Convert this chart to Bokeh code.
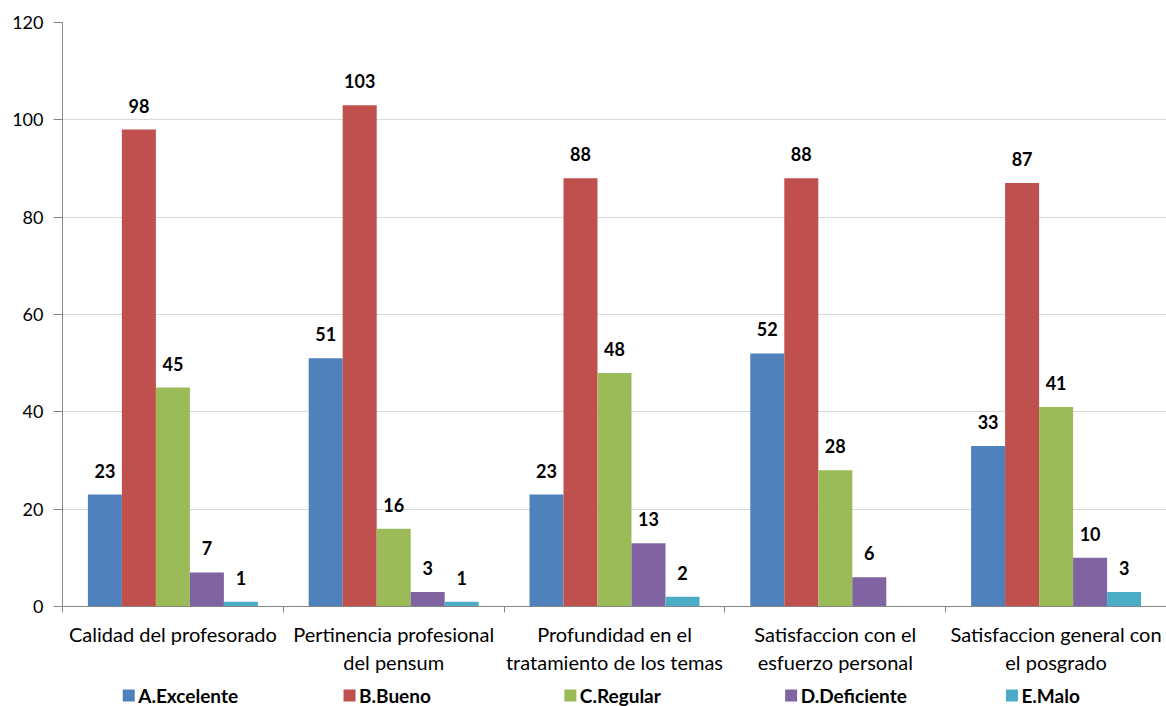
from bokeh.plotting import figure
from bokeh.layouts import column
from bokeh.models import ColumnDataSource, Range1d, FixedTicker
from bokeh.core.properties import value
from bokeh.embed import file_html
from bokeh.resources import INLINE

categories = ["Calidad del profesorado", "Pertinencia profesional\ndel pensum",
              "Profundidad en el\ntratamiento de los temas", "Satisfaccion con el\nesfuerzo personal",
              "Satisfaccion general con\nel posgrado"]
series_names = ["A.Excelente", "B.Bueno", "C.Regular", "D.Deficiente", "E.Malo"]
excelente = [23, 51, 23, 52, 33]
bueno = [98, 103, 88, 88, 87]
regular = [45, 16, 48, 28, 41]
deficiente = [7, 3, 13, 6, 10]
malo = [1, 1, 2, None, 3]
series_values = [excelente, bueno, regular, deficiente, malo]
colors = ["#4F81BD", "#C0504D", "#9BBB59", "#8064A2", "#4BACC6"]
y_ticks = [0, 20, 40, 60, 80, 100, 120]

FONT = "Lato"
n = len(categories)
bw = 0.154

p = figure(output_backend="svg", toolbar_location=None,
           frame_width=1104, frame_height=584,
           min_border_left=62, min_border_top=22, min_border_right=0, min_border_bottom=0,
           x_range=Range1d(0, n), y_range=Range1d(0, 120))
p.outline_line_color = None
p.background_fill_color = "white"

for j, (name, vals, col) in enumerate(zip(series_names, series_values, colors)):
    xs = [i + 0.5 + (j - 2) * bw for i in range(n)]
    tops = [float('nan') if v is None else v for v in vals]
    labels = ["" if v is None else str(v) for v in vals]
    src = ColumnDataSource(dict(x=xs, top=tops, label=labels, ly=[0 if v is None else v for v in vals]))
    p.vbar(x="x", top="top", width=bw, bottom=0, source=src, fill_color=col, line_color=None)
    p.text(x="x", y="ly", text="label", source=src, text_align="center", text_baseline="alphabetic",
           y_offset=-24, text_font=value(FONT), text_font_style="bold", text_font_size="18px",
           text_color="black")

# axes
p.xaxis.ticker = FixedTicker(ticks=[i + 0.5 for i in range(n)], minor_ticks=list(range(n + 1)))
p.xaxis.major_label_overrides = {i + 0.5: c for i, c in enumerate(categories)}
p.xaxis.major_tick_line_color = None
p.xaxis.major_tick_in = 0
p.xaxis.major_tick_out = 0
p.xaxis.minor_tick_line_color = "#868686"
p.xaxis.minor_tick_in = 0
p.xaxis.minor_tick_out = 6
p.xaxis.axis_line_color = "#868686"
p.xaxis.major_label_standoff = 9
p.xaxis.major_label_text_font = FONT
p.xaxis.major_label_text_font_size = "20px"
p.xaxis.major_label_text_color = "black"
p.xaxis.major_label_text_line_height = 1.2

p.yaxis.ticker = FixedTicker(ticks=y_ticks)
p.yaxis.minor_tick_line_color = None
p.yaxis.major_tick_in = 0
p.yaxis.major_tick_out = 9
p.yaxis.major_tick_line_color = "#868686"
p.yaxis.axis_line_color = "#868686"
p.yaxis.major_label_standoff = 10
p.yaxis.major_label_text_font = FONT
p.yaxis.major_label_text_font_size = "18px"
p.yaxis.major_label_text_color = "black"

p.xgrid.grid_line_color = None
p.ygrid.grid_line_color = "#D9D9D9"
p.ygrid.ticker = FixedTicker(ticks=y_ticks)

# legend strip (separate figure sharing the x scale)
leg = figure(output_backend="svg", toolbar_location=None,
             frame_width=1104, frame_height=30,
             min_border_left=62, min_border_top=0, min_border_right=0, min_border_bottom=0,
             x_range=p.x_range, y_range=Range1d(0, 30))
leg.axis.visible = False
leg.grid.visible = False
leg.outline_line_color = None
lsrc = ColumnDataSource(dict(x=[i + 0.30 for i in range(n)], tx=[i + 0.343 for i in range(n)],
                             y=[12] * n, name=series_names, color=colors))
leg.scatter(x="x", y="y", marker="square", size=12, fill_color="color", line_color=None, source=lsrc)
leg.text(x="tx", y="y", text="name", source=lsrc, text_align="left", text_baseline="middle",
         text_font=value(FONT), text_font_style="bold", text_font_size="19px", text_color="black")

layout = column(p, leg, spacing=0)
open("out.html", "w").write(file_html(layout, INLINE))
